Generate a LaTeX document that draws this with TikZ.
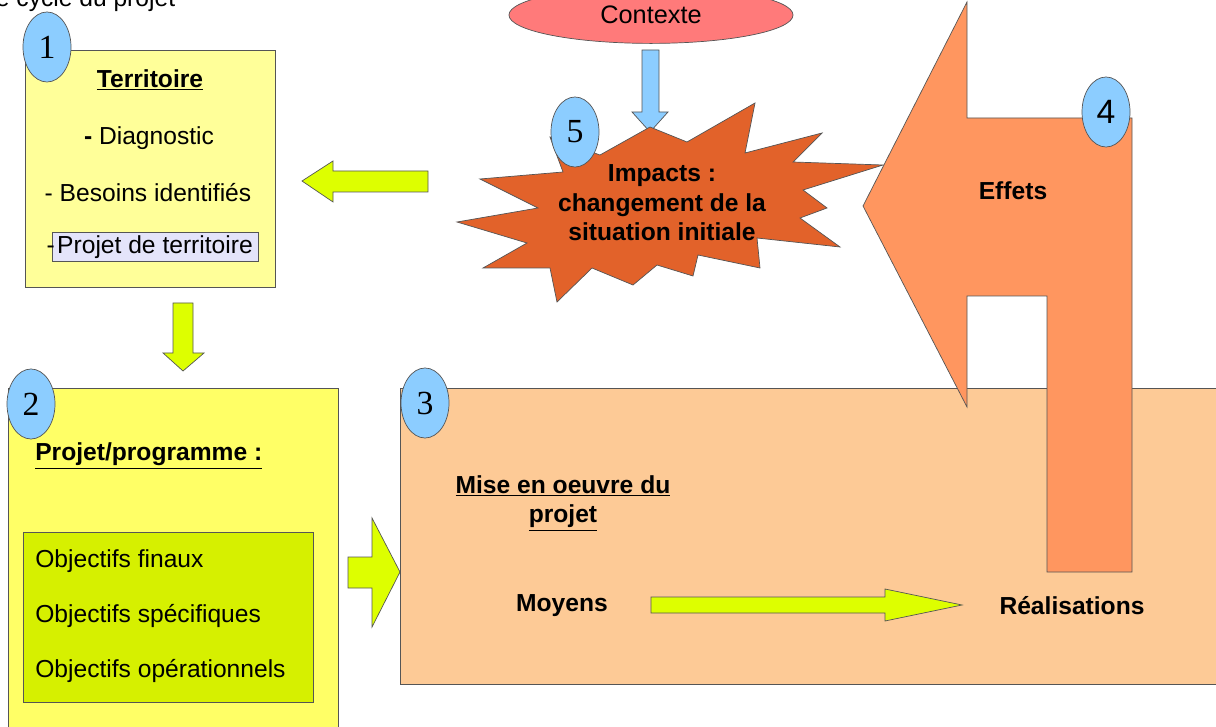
\documentclass[tikz,border=0pt]{standalone}
\usepackage{fontspec}
\setmainfont{Liberation Sans}
\newfontfamily\numfont{Liberation Serif}
\usetikzlibrary{positioning,shapes.geometric}

\definecolor{paleyellow}{RGB}{255,255,153}
\definecolor{brightyellow}{RGB}{255,255,102}
\definecolor{limefill}{RGB}{214,240,0}
\definecolor{arrowlime}{RGB}{221,255,0}
\definecolor{circleblue}{RGB}{140,205,255}
\definecolor{contextred}{RGB}{255,122,122}
\definecolor{impactred}{RGB}{226,98,42}
\definecolor{effetorange}{RGB}{255,150,95}
\definecolor{peach}{RGB}{253,202,150}
\definecolor{lavender}{RGB}{228,228,250}
\definecolor{edgegray}{RGB}{85,85,85}

\tikzset{
  edge/.style = {draw = edgegray, line width = 0.5pt},
  txt/.style = {font = \fontsize{17.5}{21}\selectfont, inner sep = 0pt, text = black},
  boldtxt/.style = {font = \fontsize{17.5}{21}\selectfont\bfseries, inner sep = 0pt, text = black},
  numcircle/.style = {ellipse, edge, fill = circleblue, minimum width = 1.2cm,
                      minimum height = 1.75cm, inner sep = 0pt,
                      font = \numfont\fontsize{24}{24}\selectfont},
}

\begin{document}
\begin{tikzpicture}[x = 0.025cm, y = -0.025cm]
\useasboundingbox (0,0) rectangle (1216,727);

% titre coupe en haut
\node[txt, anchor = base west] (titre) at (-18,7) {Le cycle du projet};

% 1 : territoire
\filldraw[fill = paleyellow, edge] (25,50) rectangle (275,287);
\node[boldtxt] (terr) at (150,80) {\underline{Territoire}};
\node[txt] (diag) at (149,138) {\textbf{-} Diagnostic};
\node[txt] (besoins) at (148,193) {- Besoins identifiés};
\node[txt, fill = lavender, edge, minimum width = 5.15cm, minimum height = 0.73cm] (projterr) at (155,247) {Projet de territoire};
\node[txt, anchor = base] (tiret) at ([xshift = -0.02cm]projterr.base west) {-};

% fleches jaunes
\filldraw[fill = arrowlime, edge] (173,303) -- (193,303) -- (193,353) -- (204,353) -- (183,371) -- (163,353) -- (173,353) -- cycle;
\filldraw[fill = arrowlime, edge] (428,171) -- (428,192) -- (333,192) -- (333,202) -- (302,181) -- (333,161) -- (333,171) -- cycle;

% 2 : projet/programme
\filldraw[fill = brightyellow, edge] (8,388) rectangle (338,745);
\node[boldtxt, anchor = west] (prog) at (35,456) {\underline{Projet/programme :}};
\filldraw[fill = limefill, edge] (23,532) rectangle (313,702);
\node[txt, anchor = west] (obj1) at (35,561) {Objectifs finaux};
\node[txt, anchor = west] (obj2) at (35,616) {Objectifs spécifiques};
\node[txt, anchor = west] (obj3) at (35,671) {Objectifs opérationnels};

\filldraw[fill = arrowlime, edge] (348,557) -- (372,557) -- (372,518) -- (400,572) -- (372,627) -- (372,588) -- (348,588) -- cycle;

% 3 : mise en oeuvre
\filldraw[fill = peach, edge] (400,388) rectangle (1240,684);
\node[boldtxt, align = center] (mise) at (563,503) {\underline{Mise en oeuvre du}\\\underline{projet}};
\node[boldtxt] (moyens) at (562,606) {Moyens};
\node[boldtxt] (real) at (1072,606) {Réalisations};
\filldraw[fill = arrowlime, edge] (651,597) -- (885,597) -- (885,589) -- (962,605) -- (885,621) -- (885,613) -- (651,613) -- cycle;

% 5 : impacts
\filldraw[fill = circleblue, edge] (642,50) -- (659,50) -- (659,112) -- (668,112) -- (650,132) -- (632,112) -- (642,112) -- cycle;
\filldraw[fill = impactred, edge] (650,127) -- (687,142) -- (755,103) -- (745,153) -- (822,133) -- (793,162)
  -- (883,165) -- (803,190) -- (827,208) -- (800,218) -- (840,247) -- (757,238) -- (760,268)
  -- (698,255) -- (693,276) -- (657,265) -- (633,285) -- (592,268) -- (557,302) -- (550,268)
  -- (483,268) -- (527,243) -- (457,222) -- (538,208) -- (480,179) -- (563,172) -- (550,137)
  -- (600,155) -- cycle;
\node[boldtxt, align = center] (impacts) at (662,203) {Impacts :\\changement de la\\situation initiale};

\node[ellipse, edge, fill = contextred, minimum width = 7.1cm, minimum height = 1.42cm, txt,
      font = \fontsize{18}{21}\selectfont] (contexte) at (651,15) {Contexte};

% 4 : effets
\filldraw[fill = effetorange, edge] (863,206) -- (967,2) -- (967,118) -- (1132,118) -- (1132,572)
  -- (1047,572) -- (1047,296) -- (967,296) -- (967,407) -- cycle;
\node[boldtxt] (effets) at (1013,191) {Effets};

% pastilles
\node[numcircle] (n1) at (47,47) {1};
\node[numcircle] (n2) at (31,404) {2};
\node[numcircle] (n3) at (425,403) {3};
\node[numcircle, font = \fontsize{24}{24}\selectfont] (n4) at (1106,112) {4};
\node[numcircle] (n5) at (575,132) {5};
\end{tikzpicture}
\end{document}
